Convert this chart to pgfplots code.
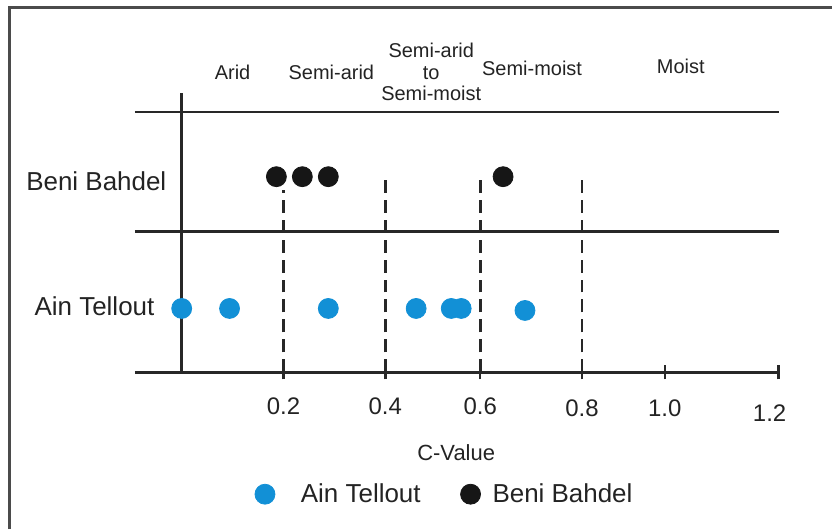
\documentclass[border=0pt]{standalone}
\usepackage{pgfplots}
\pgfplotsset{compat=1.18}
\usepackage{fontspec}
\setmainfont{Liberation Sans}
\definecolor{ainblue}{RGB}{18,144,214}
\definecolor{bbblack}{RGB}{22,22,22}
\definecolor{linegray}{RGB}{40,40,40}
\definecolor{framegray}{RGB}{75,75,75}
\definecolor{txt}{RGB}{35,35,35}

\pgfplotstableread{
c y
0.000 64
0.094 64
0.288 64
0.465 64
0.539 64
0.560 64
0.688 62
}\aintellout

\pgfplotstableread{
c y
0.186 196
0.237 196
0.288 196
0.645 196
}\benibahdel

\begin{document}
\begin{tikzpicture}
\begin{axis}[
  scale only axis,
  width=322.5pt, height=140pt,
  x coord trafo/.code={\pgfmathparse{(#1<0.4) ? (#1) : ((#1<0.6) ? (0.4+(#1-0.4)*0.9314) : ((#1<0.8) ? (0.5863+(#1-0.6)) : ((#1<1.0) ? (0.7863+(#1-0.8)*0.8137) : (0.949+(#1-1.0)*1.1176))))}},
  xmin=-0.0922, xmax=1.2,
  ymin=0, ymax=280,
  axis x line=bottom,
  x axis line style={-, line width=1.3pt, linegray},
  hide y axis,
  xtick={0.2,0.4,0.6,0.8,1.0,1.2},
  xticklabels={0.2,0.4,0.6,\raisebox{-1pt}[\height]{0.8},\raisebox{-1pt}[\height]{1.0},\raisebox{-3.5pt}[\height]{1.2\hspace*{9pt}}},
  tick align=center,
  major tick length=7pt,
  tick style={line width=1.2pt, linegray},
  xticklabel style={font=\fontsize{12}{14}\selectfont, text=txt, yshift=-5.5pt},
  /pgf/number format/assume math mode=true,
  clip=false,
  legend columns=2,
  legend style={at={(axis description cs:0.483,-0.436)}, anchor=center, draw=none, fill=none,
    font=\fontsize{13}{15}\selectfont, text=txt, column sep=4pt,
    /tikz/every even column/.append style={column sep=18pt}},
  legend image code/.code={\draw[#1] plot coordinates {(0.2cm,0cm)};},
]
% horizontal rules and vertical axis
\addplot[forget plot, line width=1.3pt, linegray] coordinates {(-0.0922,261) (1.2,261)};
\addplot[forget plot, line width=1.3pt, linegray] coordinates {(-0.0922,141) (1.2,141)};
\addplot[forget plot, line width=1.3pt, linegray] coordinates {(0,0) (0,280)};
% dashed class boundaries
\addplot[forget plot, line width=1.4pt, linegray, dash pattern=on 6.5pt off 3.5pt] coordinates {(0.2,0) (0.2,183)};
\addplot[forget plot, line width=1.4pt, linegray, dash pattern=on 6.5pt off 3.5pt] coordinates {(0.4,0) (0.4,200)};
\addplot[forget plot, line width=1.4pt, linegray, dash pattern=on 6.5pt off 3.5pt] coordinates {(0.6,0) (0.6,200)};
\addplot[forget plot, line width=1.4pt, linegray, dash pattern=on 6.5pt off 3.5pt] coordinates {(0.8,0) (0.8,198)};
% data
\addplot[only marks, mark=*, mark size=5pt, color=ainblue, fill=ainblue] table[x=c, y=y] {\aintellout};
\addlegendentry{\hspace*{7pt}Ain Tellout}
\addplot[only marks, mark=*, mark size=5pt, color=bbblack, fill=bbblack] table[x=c, y=y] {\benibahdel};
\addlegendentry{Beni Bahdel}
% texts
\node[anchor=east, font=\fontsize{13}{15}\selectfont, text=txt, inner sep=0pt] at (axis description cs:0.0496,0.682) {Beni Bahdel};
\node[anchor=east, font=\fontsize{13}{15}\selectfont, text=txt, inner sep=0pt] at (axis description cs:0.031,0.2357) {Ain Tellout};
\node[font=\fontsize{11}{13}\selectfont, text=txt] at (axis description cs:0.4992,-0.2857) {C-Value};
\node[font=\fontsize{10}{11}\selectfont, text=txt] at (axis description cs:0.1519,1.075) {Arid};
\node[font=\fontsize{10}{11}\selectfont, text=txt] at (axis description cs:0.3054,1.075) {Semi-arid};
\node[font=\fontsize{10}{11}\selectfont, text=txt, align=center] at (axis description cs:0.4605,1.075) {Semi-arid\\to\\Semi-moist};
\node[font=\fontsize{10}{11}\selectfont, text=txt] at (axis description cs:0.6171,1.089) {Semi-moist};
\node[font=\fontsize{10}{11}\selectfont, text=txt] at (axis description cs:0.8481,1.093) {Moist};
% outer frame (left and top edges) and page bounds
\draw[line width=1.5pt, framegray] (axis description cs:-0.19457,-0.56071) -- (axis description cs:-0.19457,1.30536) -- (axis description cs:1.08217,1.30536);
\path (axis description cs:-0.2093,-0.56071) rectangle (axis description cs:1.08217,1.33214);
\end{axis}
\end{tikzpicture}
\end{document}
